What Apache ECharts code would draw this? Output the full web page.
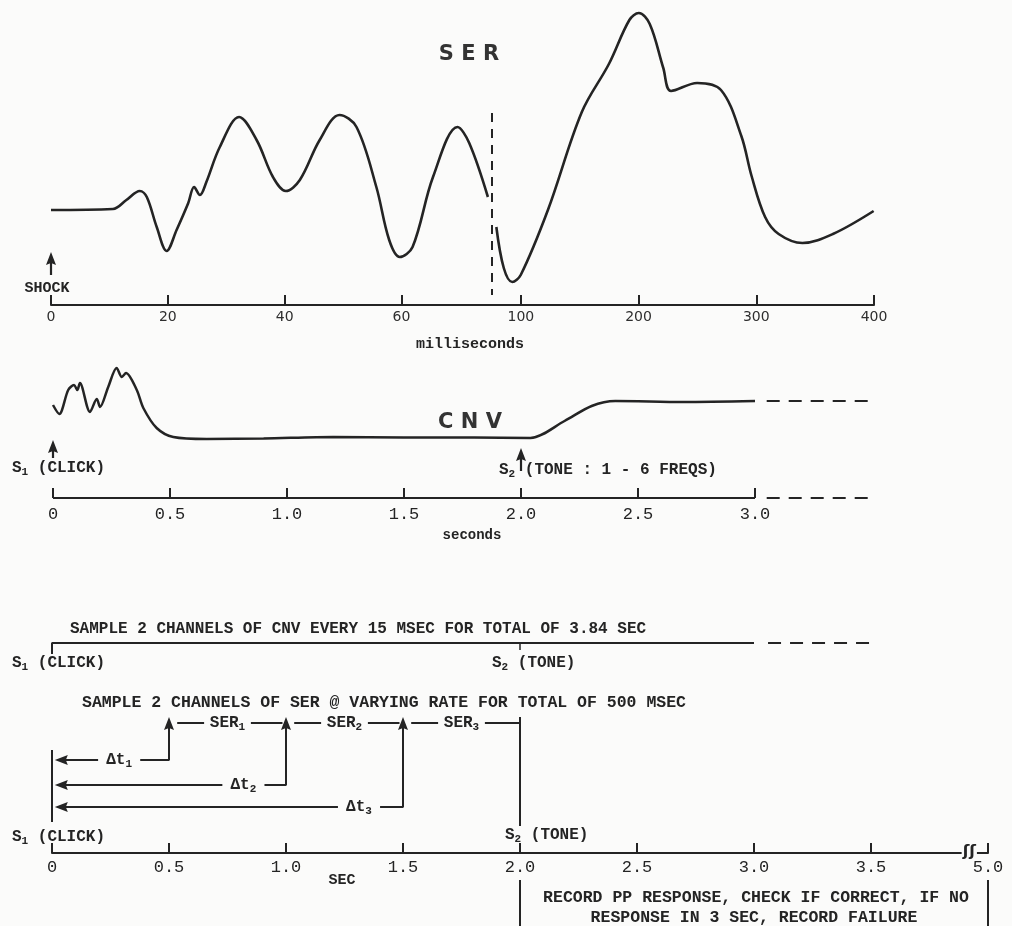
<!DOCTYPE html>
<html>
<head>
<meta charset="utf-8">
<script src="https://cdn.jsdelivr.net/npm/echarts@6/dist/echarts.min.js"></script>
<style>
html,body{margin:0;padding:0;background:#fbfbfa;}
#chart{width:1012px;height:926px;}
</style>
</head>
<body>
<div id="chart"></div>
<script>
// ---------------- DATA ----------------
// SER (somatosensory evoked response), time in ms, amplitude in arbitrary units
const serBreakMs = 75.5;              // time-scale change (dashed line)
const serTimeA = [0, 10.6, 12.9, 15.2, 16.4, 18.1, 19.8, 21.5, 23.5, 24.5, 25.5, 26.6, 28.9, 32.2, 35.2, 38.0, 40.2, 42.6, 46.0, 49.4, 52.3, 55.7, 57.9, 59.7, 61.9, 65.4, 69.6, 71.6, 74.8];
const serAmpA  = [0, 0.1, 1.0, 1.9, 1.3, -1.7, -4.1, -2.0, 0.7, 2.3, 1.5, 2.8, 6.3, 9.3, 7.0, 3.3, 1.9, 3.0, 7.0, 9.5, 8.3, 2.3, -3.0, -4.7, -3.7, 3.3, 8.3, 6.7, 1.3];
const serTimeB = [79.2, 85.5, 92.7, 99.9, 123.0, 151.8, 174.8, 192.2, 200.2, 209.5, 221.0, 227.6, 249.8, 270.0, 287.3, 296.0, 307.5, 319.0, 339.2, 365.1, 399.7];
const serAmpB  = [-1.7, -5.8, -7.2, -6.5, 0.0, 9.8, 14.6, 19.0, 19.7, 18.6, 14.2, 11.9, 12.7, 12.0, 7.4, 3.4, -0.7, -2.4, -3.3, -2.4, -0.1];
const serTicksA = [0, 20, 40, 60];
const serTicksB = [100, 200, 300, 400];

// CNV (contingent negative variation), time in s
const cnvTime = [0.00, 0.027, 0.065, 0.09, 0.104, 0.115, 0.158, 0.187, 0.201, 0.236, 0.272, 0.294, 0.312, 0.358, 0.386, 0.443, 0.514, 0.657, 0.9, 1.197, 1.5, 1.8, 2.04, 2.186, 2.302, 2.403, 2.693, 3.0];
const cnvAmp  = [3.5, 2.6, 5.0, 5.5, 5.0, 5.7, 2.8, 4.1, 3.3, 5.3, 7.2, 6.3, 6.7, 5.0, 3.2, 1.2, 0.3, 0.1, 0.15, 0.3, 0.25, 0.25, 0.2, 1.9, 3.4, 3.9, 3.8, 3.9];
const cnvTicks = [0, 0.5, 1.0, 1.5, 2.0, 2.5, 3.0];
const cnvEnd = 3.0, cnvDashEnd = 3.5;

// Trial timeline, time in s (4.0 on the scale stands for the broken 5.0)
const timelineTicks = [0, 0.5, 1.0, 1.5, 2.0, 2.5, 3.0, 3.5, 4.0];
const timelineTickLabels = ['0', '0.5', '1.0', '1.5', '2.0', '2.5', '3.0', '3.5', '5.0'];
const s1Time = 0, s2Time = 2.0, responseEnd = 4.0;
const serSampleTimes = [0.5, 1.0, 1.5];
const serWindowNames = ['1', '2', '3'];
const cnvSampleEnd = 3.0, cnvSampleDashEnd = 3.52;

// ---------------- STYLE / LAYOUT ----------------
const INK = '#242424';
const BG = '#fbfbfa';
const MONO = "'Liberation Mono','DejaVu Sans Mono',monospace";
const SANS = "'DejaVu Sans','Liberation Sans',sans-serif";
const noStroke = {textBorderWidth: 0, textBorderColor: 'transparent', textShadowBlur: 0};
const RICH = {
  m: Object.assign({fontFamily: MONO, fontSize: 16, fontWeight: 'bold', color: INK}, noStroke),
  s: Object.assign({fontFamily: MONO, fontSize: 11, fontWeight: 'bold', color: INK, padding: [9, 0, 0, 0]}, noStroke)
};
const ARROW = 'path://M5,0L10,13L5,11L0,13Z';
// row levels of the timeline grid (units of the hidden y axis)
const ROW = {tip: 13.6, ser: 13.0, dt: [9.3, 6.8, 4.6], s1Top: 10.3, s1Bot: 3.1, s2Bot: 2.7,
             bracket: 21, boxTop: -2.7, boxBot: -7.3};
const dtLabelAt = [0.287, 0.818, 1.312];

const pairs = (xs, ys) => xs.map((x, i) => [x, ys[i]]);
const series = [];
function addLine(g, pts, o = {}) {
  series.push({type: 'line', xAxisIndex: g, yAxisIndex: g, data: pts, symbol: 'none', silent: true,
    animation: false, clip: false, smooth: o.smooth || false, z: 3,
    lineStyle: {color: INK, width: o.width || 2, type: o.dash || 'solid', cap: 'butt'}});
}
function addArrows(g, items) {
  series.push({type: 'scatter', xAxisIndex: g, yAxisIndex: g, silent: true, animation: false, clip: false,
    symbol: ARROW, symbolSize: [10, 13], itemStyle: {color: INK, opacity: 1}, z: 4,
    data: items.map(([x, y, dir]) => ({value: [x, y],
      symbolRotate: dir === 'left' ? 90 : 0,
      symbolOffset: dir === 'left' ? [6.5, 0] : [0, 6.5]}))});
}
function addLabels(g, items, extra = {}) {
  series.push({type: 'scatter', xAxisIndex: g, yAxisIndex: g, silent: true, animation: false, clip: false,
    symbolSize: 1, itemStyle: {color: BG, opacity: 1}, z: 5,
    label: Object.assign({show: true, position: 'inside', color: INK, opacity: 1, rich: RICH}, noStroke, extra),
    data: items.map(([x, y, t]) => ({value: [x, y], label: {formatter: t}}))});
}

// ---- SER ----
addLine(0, pairs(serTimeA, serAmpA), {smooth: 0.35, width: 2.6});
addLine(1, pairs(serTimeB, serAmpB), {smooth: 0.35, width: 2.6});
addLine(1, [[serBreakMs, 9.7], [serBreakMs, -8.5]], {dash: [9, 7], width: 2});
addLine(0, [[0, -6.5], [0, -4.8]], {width: 2.2});
addArrows(0, [[0, -4.2, 'up']]);

// ---- CNV ----
addLine(2, pairs(cnvTime, cnvAmp), {smooth: 0.3, width: 2.5});
addLine(2, [[cnvEnd + 0.05, cnvAmp[cnvAmp.length - 1]], [cnvDashEnd, cnvAmp[cnvAmp.length - 1]]], {dash: [13, 9], width: 2});
addLine(2, [[0, -5.8], [cnvEnd, -5.8]], {width: 2});
addLine(2, [[cnvEnd + 0.05, -5.8], [cnvDashEnd, -5.8]], {dash: [13, 9], width: 2});
addLine(2, [[s1Time, -1.8], [s1Time, -0.6]], {width: 2.2});
addLine(2, [[s2Time, -3.1], [s2Time, -1.4]], {width: 2.2});
addArrows(2, [[s1Time, 0.0, 'up'], [s2Time, -0.8, 'up']]);

// ---- Timeline ----
// CNV sampling bracket
addLine(3, [[s1Time, ROW.bracket - 1.1], [s1Time, ROW.bracket], [cnvSampleEnd, ROW.bracket]]);
addLine(3, [[cnvSampleEnd + 0.06, ROW.bracket], [cnvSampleDashEnd, ROW.bracket]], {dash: [13, 9]});
addLine(3, [[s2Time, ROW.bracket], [s2Time, ROW.bracket - 0.7]], {width: 1.5});
// S1 bar and S2 bar
addLine(3, [[s1Time, ROW.s1Top], [s1Time, ROW.s1Bot]]);
addLine(3, [[s2Time, ROW.tip], [s2Time, ROW.s2Bot]]);
// delta-t rows and sample arrows
const gap = 0.09;
serSampleTimes.forEach((t, i) => {
  const r = ROW.dt[i], c = dtLabelAt[i];
  addLine(3, [[s1Time + 0.03, r], [c - gap, r]]);
  addLine(3, [[c + gap, r], [t, r], [t, ROW.tip - 0.8]]);
});
addArrows(3, serSampleTimes.map(t => [t, ROW.tip, 'up']).concat(ROW.dt.map(r => [s1Time + 0.012, r, 'left'])));
addLabels(3, serSampleTimes.map((t, i) => [dtLabelAt[i], ROW.dt[i], '{m|Δt}{s|' + (i + 1) + '}']));
// SER windows
const bounds = serSampleTimes.concat([s2Time]);
const serLabels = [];
for (let i = 0; i < 3; i++) {
  const a = bounds[i], b = bounds[i + 1], mid = (a + b) / 2;
  addLine(3, [[a + 0.035, ROW.ser], [mid - 0.1, ROW.ser]]);
  addLine(3, [[mid + 0.1, ROW.ser], [i === 2 ? b : b - 0.015, ROW.ser]]);
  serLabels.push([mid, ROW.ser, '{m|SER}{s|' + serWindowNames[i] + '}']);
}
addLabels(3, serLabels);
// response window bars (below the axis)
addLine(3, [[s2Time, ROW.boxTop], [s2Time, ROW.boxBot]]);
addLine(3, [[responseEnd, ROW.boxTop], [responseEnd, ROW.boxBot]]);
// axis break mark
addLabels(3, [[3.92, 0.1, '{b|ʃʃ}']], {rich: {b: Object.assign({fontFamily: SANS, fontSize: 16, fontWeight: 'bold', color: INK, backgroundColor: BG, padding: [0, 1]}, noStroke)}});

// ---------------- AXES ----------------
const baseX = {type: 'value', splitLine: {show: false},
  axisLine: {show: true, onZero: false, lineStyle: {color: INK, width: 2}},
  axisTick: {show: true, inside: true, length: 10, lineStyle: {color: INK, width: 2}}};
const xAxis = [
  Object.assign({}, baseX, {gridIndex: 0, min: 0, max: serBreakMs,
    axisTick: Object.assign({}, baseX.axisTick, {customValues: serTicksA}),
    axisLabel: {customValues: serTicksA, fontFamily: SANS, fontSize: 14, color: '#2e2e2e', margin: 5}}),
  Object.assign({}, baseX, {gridIndex: 1, min: serBreakMs, max: 400,
    axisTick: Object.assign({}, baseX.axisTick, {customValues: serTicksB}),
    axisLabel: {customValues: serTicksB, fontFamily: SANS, fontSize: 14, color: '#2e2e2e', margin: 5}}),
  Object.assign({}, baseX, {gridIndex: 2, min: 0, max: cnvDashEnd,
    axisLine: {show: false, onZero: false},
    axisTick: Object.assign({}, baseX.axisTick, {customValues: cnvTicks}),
    axisLabel: {customValues: cnvTicks, fontFamily: MONO, fontSize: 17, color: INK, margin: 8,
      formatter: v => v === 0 ? '0' : v.toFixed(1)}}),
  Object.assign({}, baseX, {gridIndex: 3, min: 0, max: responseEnd,
    axisTick: Object.assign({}, baseX.axisTick, {customValues: timelineTicks}),
    axisLabel: {customValues: timelineTicks, fontFamily: MONO, fontSize: 17, color: INK, margin: 6,
      formatter: v => timelineTickLabels[timelineTicks.indexOf(v)]}})
];
const yAxis = [
  {gridIndex: 0, type: 'value', min: -9.5, max: 20.5, show: false},
  {gridIndex: 1, type: 'value', min: -9.5, max: 20.5, show: false},
  {gridIndex: 2, type: 'value', min: -5.8, max: 8, show: false},
  {gridIndex: 3, type: 'value', min: 0, max: 25.3, show: false}
];
const gridBase = {outerBoundsMode: 'none', containLabel: false};
const grid = [
  Object.assign({left: 51, top: 5, width: 441, height: 300}, gridBase),
  Object.assign({left: 492, top: 5, width: 382, height: 300}, gridBase),
  Object.assign({left: 53, top: 360, width: 819, height: 138}, gridBase),
  Object.assign({left: 52, top: 600, width: 936, height: 253}, gridBase)
];

// ---------------- TEXT ----------------
function txt(x, y, text, o = {}) {
  return {type: 'text', x: x, y: y, silent: true, z: 10,
    style: Object.assign({text: text, fill: INK, fontFamily: MONO, fontSize: 16, fontWeight: 'bold',
      align: 'left', verticalAlign: 'middle', rich: RICH}, o)};
}
const graphic = [
  txt(469, 55, 'S E R', {fontFamily: SANS, fontSize: 21, align: 'center', fill: '#333'}),
  txt(47, 288, 'SHOCK', {fontSize: 15, align: 'center'}),
  txt(470, 344, 'milliseconds', {fontSize: 15, align: 'center'}),
  txt(470, 423, 'C N V', {fontFamily: SANS, fontSize: 21, align: 'center', fill: '#333'}),
  txt(12, 468, '{m|S}{s|1}{m| (CLICK)}'),
  txt(499, 470, '{m|S}{s|2}{m| (TONE : 1 - 6 FREQS)}'),
  txt(472, 535, 'seconds', {fontSize: 14, align: 'center'}),
  txt(70, 629, 'SAMPLE 2 CHANNELS OF CNV EVERY 15 MSEC FOR TOTAL OF 3.84 SEC', {fontSize: 16}),
  txt(12, 663, '{m|S}{s|1}{m| (CLICK)}'),
  txt(492, 663, '{m|S}{s|2}{m| (TONE)}'),
  txt(82, 703, 'SAMPLE 2 CHANNELS OF SER @ VARYING RATE FOR TOTAL OF 500 MSEC', {fontSize: 16.5}),
  txt(12, 837, '{m|S}{s|1}{m| (CLICK)}'),
  txt(505, 835, '{m|S}{s|2}{m| (TONE)}'),
  txt(342, 880, 'SEC', {fontSize: 15, align: 'center'}),
  txt(756, 898, 'RECORD PP RESPONSE, CHECK IF CORRECT, IF NO', {fontSize: 16.5, align: 'center'}),
  txt(754, 918, 'RESPONSE IN 3 SEC, RECORD FAILURE', {fontSize: 16.5, align: 'center'})
];

const chart = echarts.init(document.getElementById('chart'), null, {renderer: 'canvas'});
chart.setOption({
  backgroundColor: BG,
  animation: false,
  grid: grid,
  xAxis: xAxis,
  yAxis: yAxis,
  series: series,
  graphic: graphic
});
</script>
</body>
</html>
